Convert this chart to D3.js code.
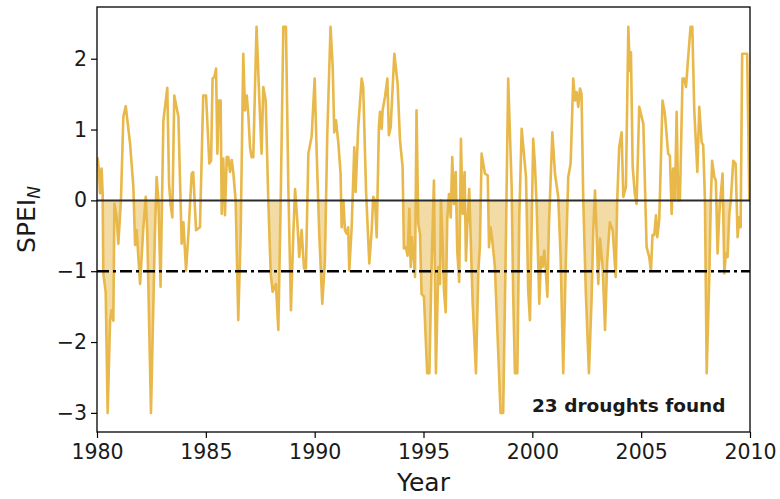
<!DOCTYPE html>
<html>
<head>
<meta charset="utf-8">
<script src="https://cdn.jsdelivr.net/npm/d3@7"></script>
<style>
  body { margin: 0; background: #fff; }
  text { font-family: "DejaVu Sans", sans-serif; fill: #1a1a1a; }
</style>
</head>
<body>
<div id="chart"></div>
<script>
// SPEI_N series (decimal year, value)
var years = [
  1980.02,1980.09,1980.14,1980.21,1980.26,1980.29,1980.40,1980.49,1980.60,1980.67,1980.75,1980.80,1980.90,1980.98,
  1981.10,1981.21,1981.32,1981.52,1981.67,1981.75,1981.82,1981.98,1982.13,1982.24,1982.31,1982.48,1982.66,1982.74,
  1982.82,1982.92,1983.05,1983.23,1983.31,1983.38,1983.46,1983.55,1983.74,1983.81,1983.89,1983.97,1984.09,1984.20,
  1984.35,1984.42,1984.55,1984.73,1984.88,1985.01,1985.16,1985.24,1985.31,1985.39,1985.47,1985.53,1985.60,1985.68,
  1985.73,1985.80,1985.88,1985.96,1986.03,1986.11,1986.19,1986.26,1986.37,1986.49,1986.60,1986.72,1986.80,1986.88,
  1986.95,1987.03,1987.10,1987.18,1987.26,1987.33,1987.46,1987.56,1987.64,1987.75,1987.87,1987.98,1988.07,1988.16,
  1988.22,1988.33,1988.44,1988.56,1988.68,1988.79,1988.91,1989.02,1989.10,1989.20,1989.29,1989.40,1989.51,1989.60,
  1989.71,1989.86,1990.00,1990.09,1990.21,1990.35,1990.47,1990.58,1990.73,1990.83,1990.90,1990.98,1991.09,1991.19,
  1991.24,1991.32,1991.39,1991.47,1991.54,1991.59,1991.70,1991.82,1991.88,1992.00,1992.16,1992.23,1992.36,1992.51,
  1992.62,1992.69,1992.77,1992.85,1992.95,1993.00,1993.08,1993.12,1993.23,1993.34,1993.41,1993.49,1993.66,1993.81,
  1993.92,1994.04,1994.10,1994.19,1994.27,1994.35,1994.41,1994.47,1994.53,1994.61,1994.68,1994.76,1994.84,1994.91,
  1995.02,1995.17,1995.27,1995.37,1995.48,1995.57,1995.68,1995.76,1995.80,1995.88,1995.94,1996.02,1996.09,1996.17,
  1996.25,1996.32,1996.40,1996.48,1996.55,1996.64,1996.72,1996.80,1996.89,1996.95,1997.01,1997.10,1997.26,1997.41,
  1997.52,1997.59,1997.67,1997.82,1997.95,1998.01,1998.08,1998.16,1998.28,1998.43,1998.54,1998.66,1998.79,1998.89,
  1999.05,1999.12,1999.20,1999.31,1999.40,1999.51,1999.71,1999.81,1999.89,2000.04,2000.12,2000.20,2000.32,2000.40,
  2000.47,2000.55,2000.61,2000.69,2000.76,2000.92,2001.04,2001.19,2001.30,2001.42,2001.54,2001.65,2001.76,2001.88,
  2001.96,2002.03,2002.11,2002.19,2002.26,2002.34,2002.46,2002.60,2002.72,2002.80,2002.88,2002.95,2003.03,2003.11,
  2003.23,2003.34,2003.44,2003.56,2003.69,2003.83,2003.90,2003.99,2004.10,2004.18,2004.30,2004.41,2004.48,2004.53,
  2004.61,2004.71,2004.79,2004.91,2005.10,2005.25,2005.37,2005.45,2005.52,2005.60,2005.68,2005.74,2005.83,2005.98,
  2006.09,2006.24,2006.32,2006.40,2006.47,2006.55,2006.63,2006.70,2006.78,2006.90,2006.98,2007.06,2007.16,2007.27,
  2007.35,2007.44,2007.58,2007.67,2007.78,2007.85,2007.93,2008.01,2008.13,2008.20,2008.26,2008.36,2008.43,2008.51,
  2008.59,2008.66,2008.74,2008.82,2008.89,2008.97,2009.05,2009.12,2009.23,2009.34,2009.43,2009.51,2009.57,2009.64,
  2009.77,2009.87,2009.97
];
var spei = [
  0.61,0.42,0.10,0.45,0.10,-1.03,-1.30,-3.00,-1.70,-1.55,-1.70,-0.05,-0.23,-0.61,
  0.00,1.18,1.33,0.80,0.19,-0.63,-0.42,-1.18,-0.38,0.05,-0.47,-3.00,-0.47,0.33,
  0.00,-1.22,1.13,1.59,0.24,-0.05,-0.24,1.48,1.18,0.33,-0.61,-0.31,-0.99,-0.47,
  0.38,0.40,-0.42,-0.38,1.48,1.48,0.52,0.56,1.72,1.74,1.86,0.66,1.41,1.41,
  -0.19,0.59,-0.21,0.61,0.61,0.40,0.57,0.40,0.00,-1.69,-0.47,2.07,1.27,1.48,
  1.22,0.75,0.61,0.61,1.60,2.45,1.41,0.66,1.60,1.41,0.00,-1.03,-1.29,-1.22,
  -1.18,-1.83,0.00,2.45,2.45,0.19,-1.55,-0.47,0.16,-0.28,-0.80,-0.42,-0.96,-0.96,
  0.66,0.90,1.72,0.70,-0.47,-1.46,-0.85,0.94,2.45,1.88,0.96,1.13,0.80,0.38,
  -0.38,0.00,-0.42,-0.47,-0.38,-0.99,-0.38,0.75,0.12,1.03,1.72,1.60,0.14,-0.89,
  -0.42,0.05,0.00,-0.52,1.03,1.25,1.01,1.27,1.46,1.72,0.92,1.03,2.07,1.65,
  0.85,0.47,-0.68,-0.66,-0.78,-0.12,-0.94,-0.52,-0.75,-1.08,1.27,-0.33,-0.47,-1.32,
  -1.36,-2.44,-2.44,-0.94,0.28,-2.44,-0.94,-1.18,0.00,-0.61,-1.27,-1.58,-0.28,0.09,
  -0.24,0.61,-0.05,0.40,-0.71,-1.15,0.87,-0.19,0.40,-0.85,-0.38,0.16,-1.46,-2.44,
  -0.99,-0.66,0.66,0.38,0.35,-0.66,-0.38,-0.56,-0.94,-2.12,-3.00,-3.00,-0.47,1.72,
  0.19,-1.32,-2.44,-2.44,-0.24,1.01,0.33,-1.27,-1.69,0.87,0.50,-0.09,-1.46,-0.80,
  -0.94,-0.71,-0.94,-1.36,-0.38,0.96,0.38,0.05,-0.80,-2.44,-0.85,0.33,0.52,1.72,
  1.41,1.53,1.32,1.58,1.50,0.00,-1.32,-2.44,-1.41,-0.42,0.14,-0.42,-1.18,-0.54,
  -0.94,-1.83,-0.85,-0.31,-0.42,-1.08,0.00,0.75,0.96,0.05,0.19,2.45,1.83,2.09,
  0.47,0.09,-0.05,1.32,1.08,-0.66,-0.80,-0.99,-0.49,-0.49,-0.21,-0.52,-0.28,1.41,
  1.22,0.66,0.63,-0.19,0.45,0.00,1.25,0.00,0.00,1.72,1.72,1.60,2.02,2.45,
  2.45,1.27,0.40,1.32,0.82,0.78,0.00,-2.44,-1.08,0.00,0.56,0.33,0.28,-0.75,
  -0.19,0.09,0.38,-1.03,-0.75,-0.80,-0.19,0.00,0.56,0.52,-0.52,-0.24,-0.38,2.07,
  2.07,2.07,0.00
];

// drought events (start, end) that get shaded
var droughtStart = [1980.27,1981.69,1986.37,1987.87,1990.17,1994.07,1995.50,1996.50,1997.13,1997.99,1999.08,1999.70,2000.19,2001.20,2002.34,2006.36,2007.93,2008.46,2008.78];
var droughtEnd   = [1981.10,1983.00,1986.65,1988.44,1990.53,1995.46,1996.14,1996.70,1997.63,1998.82,1999.43,2000.02,2000.82,2001.62,2003.90,2006.80,2008.20,2008.70,2009.12];

var yTicks = [-3, -2, -1, 0, 1, 2];
var xTicks = [1980, 1985, 1990, 1995, 2000, 2005, 2010];
var threshold = -1;
var nDroughts = 23;

var W = 780, H = 499;
var margin = {top: 7, right: 30, bottom: 67, left: 97};
var lineColor = '#e8b84b';

var svg = d3.select('#chart').append('svg')
  .attr('width', W).attr('height', H);

var x = d3.scaleLinear().domain([1980, 2010]).range([margin.left, W - margin.right]);
var y = d3.scaleLinear().domain([-3.27, 2.73]).range([H - margin.bottom, margin.top]);

var data = years.map(function(d, i) { return {t: d, v: spei[i]}; });

// clip paths: plot box + drought windows
var defs = svg.append('defs');
defs.append('clipPath').attr('id', 'plotclip')
  .append('rect')
  .attr('x', x(1980)).attr('y', y(2.73))
  .attr('width', x(2010) - x(1980)).attr('height', y(-3.27) - y(2.73));

var dclip = defs.append('clipPath').attr('id', 'droughtclip');
droughtStart.forEach(function(s, i) {
  dclip.append('rect')
    .attr('x', x(s)).attr('y', 0)
    .attr('width', x(droughtEnd[i]) - x(s)).attr('height', H);
});

var plot = svg.append('g').attr('clip-path', 'url(#plotclip)');

var area = d3.area()
  .x(function(d) { return x(d.t); })
  .y0(y(0))
  .y1(function(d) { return y(d.v); });

plot.append('path')
  .datum(data)
  .attr('d', area)
  .attr('fill', lineColor)
  .attr('fill-opacity', 0.5)
  .attr('clip-path', 'url(#droughtclip)');

var line = d3.line()
  .x(function(d) { return x(d.t); })
  .y(function(d) { return y(d.v); });

plot.append('path')
  .datum(data)
  .attr('d', line)
  .attr('fill', 'none')
  .attr('stroke', lineColor)
  .attr('stroke-width', 2.6)
  .attr('stroke-linejoin', 'round');

// reference lines
plot.append('line')
  .attr('x1', x(1980)).attr('x2', x(2010))
  .attr('y1', y(0)).attr('y2', y(0))
  .attr('stroke', '#2b2b2b').attr('stroke-width', 2);

plot.append('line')
  .attr('x1', x(1980)).attr('x2', x(2010))
  .attr('y1', y(threshold)).attr('y2', y(threshold))
  .attr('stroke', '#000').attr('stroke-width', 2.4)
  .attr('stroke-dasharray', '12,4,3,4');

// axes
var xAxis = d3.axisBottom(x).tickValues(xTicks).tickFormat(d3.format('d')).tickSize(6).tickPadding(6);
var yAxis = d3.axisLeft(y).tickValues(yTicks)
  .tickFormat(function(d) { return d < 0 ? '\u2212' + Math.abs(d) : d; })
  .tickSize(6).tickPadding(4);

var gx = svg.append('g').attr('transform', 'translate(0,' + y(-3.27) + ')').call(xAxis);
var gy = svg.append('g').attr('transform', 'translate(' + x(1980) + ',0)').call(yAxis);
[gx, gy].forEach(function(g) {
  g.select('.domain').remove();
  g.selectAll('.tick line').attr('stroke', '#000').attr('stroke-width', 1.2);
  g.selectAll('.tick text').attr('font-size', 20.5).attr('font-family', 'DejaVu Sans').attr('fill', '#1a1a1a');
});

// frame
svg.append('rect')
  .attr('x', x(1980)).attr('y', y(2.73))
  .attr('width', x(2010) - x(1980)).attr('height', y(-3.27) - y(2.73))
  .attr('fill', 'none').attr('stroke', '#000').attr('stroke-width', 1.3);

// labels
svg.append('text')
  .attr('x', (x(1980) + x(2010)) / 2).attr('y', 491)
  .attr('text-anchor', 'middle').attr('font-size', 25)
  .text('Year');

var yl = svg.append('text')
  .attr('transform', 'translate(35,' + ((y(2.73) + y(-3.27)) / 2) + ') rotate(-90)')
  .attr('text-anchor', 'middle').attr('font-size', 25);
yl.append('tspan').text('SPEI');
yl.append('tspan').attr('font-size', 17).attr('font-style', 'italic').attr('dy', 5).text('N');

svg.append('text')
  .attr('x', 532).attr('y', 412)
  .attr('font-size', 18.5).attr('font-weight', 'bold')
  .text(nDroughts + ' droughts found');
</script>
</body>
</html>
